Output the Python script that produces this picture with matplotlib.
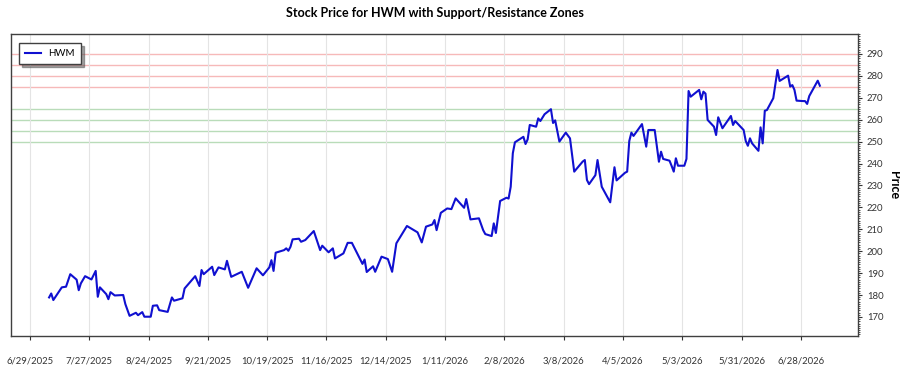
import matplotlib
matplotlib.use("Agg")
import matplotlib.pyplot as plt
from matplotlib.ticker import MultipleLocator
import pandas as pd

plt.rcParams['font.family'] = ['Lato', 'DejaVu Sans']

# price readings (date, close)
dates = [
    "2025-07-08", "2025-07-09", "2025-07-10", "2025-07-14", "2025-07-16", "2025-07-18",
    "2025-07-21", "2025-07-22", "2025-07-23", "2025-07-25", "2025-07-28", "2025-07-30",
    "2025-07-31", "2025-08-01", "2025-08-04", "2025-08-05", "2025-08-06", "2025-08-08",
    "2025-08-12", "2025-08-13", "2025-08-15", "2025-08-18", "2025-08-19", "2025-08-21",
    "2025-08-22", "2025-08-25", "2025-08-26", "2025-08-28", "2025-08-29", "2025-09-02",
    "2025-09-04", "2025-09-05", "2025-09-09", "2025-09-10", "2025-09-15", "2025-09-17",
    "2025-09-18", "2025-09-19", "2025-09-23", "2025-09-24", "2025-09-26", "2025-09-29",
    "2025-09-30", "2025-10-02", "2025-10-07", "2025-10-10", "2025-10-14", "2025-10-17",
    "2025-10-20", "2025-10-21", "2025-10-22", "2025-10-23", "2025-10-27", "2025-10-28",
    "2025-10-29", "2025-10-30", "2025-10-31", "2025-11-03", "2025-11-04", "2025-11-06",
    "2025-11-10", "2025-11-13", "2025-11-14", "2025-11-17", "2025-11-19", "2025-11-20",
    "2025-11-24", "2025-11-26", "2025-11-28", "2025-12-03", "2025-12-04", "2025-12-05",
    "2025-12-08", "2025-12-09", "2025-12-12", "2025-12-15", "2025-12-17", "2025-12-19",
    "2025-12-24", "2025-12-29", "2025-12-31", "2026-01-02", "2026-01-05", "2026-01-06",
    "2026-01-07", "2026-01-09", "2026-01-12", "2026-01-14", "2026-01-16", "2026-01-20",
    "2026-01-21", "2026-01-23", "2026-01-27", "2026-01-29", "2026-01-30", "2026-02-02",
    "2026-02-03", "2026-02-04", "2026-02-06", "2026-02-09", "2026-02-10", "2026-02-11",
    "2026-02-12", "2026-02-13", "2026-02-17", "2026-02-18", "2026-02-19", "2026-02-20",
    "2026-02-23", "2026-02-24", "2026-02-25", "2026-02-27", "2026-03-02", "2026-03-03",
    "2026-03-04", "2026-03-06", "2026-03-09", "2026-03-11", "2026-03-13", "2026-03-17",
    "2026-03-18", "2026-03-19", "2026-03-20", "2026-03-23", "2026-03-24", "2026-03-26",
    "2026-03-30", "2026-04-01", "2026-04-02", "2026-04-06", "2026-04-07", "2026-04-08",
    "2026-04-09", "2026-04-10", "2026-04-14", "2026-04-16", "2026-04-17", "2026-04-20",
    "2026-04-22", "2026-04-23", "2026-04-24", "2026-04-27", "2026-04-28", "2026-04-29",
    "2026-04-30", "2026-05-01", "2026-05-04", "2026-05-05", "2026-05-06", "2026-05-07",
    "2026-05-11", "2026-05-12", "2026-05-13", "2026-05-14", "2026-05-15", "2026-05-18",
    "2026-05-19", "2026-05-20", "2026-05-22", "2026-05-26", "2026-05-27", "2026-05-28",
    "2026-06-01", "2026-06-02", "2026-06-03", "2026-06-04", "2026-06-05", "2026-06-08",
    "2026-06-09", "2026-06-10", "2026-06-11", "2026-06-12", "2026-06-15", "2026-06-16",
    "2026-06-17", "2026-06-18", "2026-06-22", "2026-06-23", "2026-06-24", "2026-06-25",
    "2026-06-26", "2026-06-29", "2026-06-30", "2026-07-01", "2026-07-02", "2026-07-06",
    "2026-07-07",
]
prices = [
    178.9, 180.7, 177.7, 183.5, 183.8, 189.5,
    187.0, 182.2, 185.3, 188.6, 187.1, 191.0,
    179.2, 183.5, 180.4, 178.1, 181.3, 179.8,
    180.0, 175.9, 170.5, 171.9, 170.8, 172.2,
    170.1, 170.1, 175.1, 175.3, 173.1, 172.3,
    178.9, 177.4, 178.5, 183.0, 188.6, 184.1,
    191.4, 189.5, 192.9, 189.1, 192.6, 191.7,
    195.6, 188.3, 190.6, 183.3, 192.2, 189.0,
    192.6, 195.9, 191.0, 199.3, 200.5, 201.3,
    200.2, 202.0, 205.4, 205.7, 204.3, 205.1,
    209.2, 200.5, 202.5, 199.5, 201.3, 196.7,
    199.0, 203.8, 203.8, 194.2, 196.2, 190.5,
    193.1, 190.6, 197.5, 196.4, 190.6, 203.6,
    211.5, 208.6, 204.0, 211.2, 212.2, 214.2,
    209.6, 217.5, 219.5, 219.2, 224.1, 219.8,
    223.8, 214.5, 215.0, 209.6, 207.8, 206.9,
    212.7, 208.3, 222.9, 224.4, 224.0, 229.4,
    244.7, 249.7, 252.2, 248.9, 251.0, 257.6,
    256.8, 260.6, 259.4, 262.5, 264.8, 258.5,
    259.7, 250.0, 254.1, 251.5, 236.3, 240.9,
    241.6, 232.5, 230.6, 234.7, 241.6, 229.4,
    222.3, 238.3, 232.3, 235.8, 236.3, 250.3,
    254.1, 252.6, 258.0, 247.7, 255.3, 255.3,
    240.8, 245.4, 242.1, 241.3, 238.9, 236.3,
    242.4, 239.0, 239.0, 242.1, 273.1, 270.5,
    273.6, 269.3, 272.8, 271.9, 259.9, 256.8,
    253.0, 261.1, 256.1, 261.7, 257.6, 259.4,
    255.3, 250.3, 248.1, 251.5, 249.2, 245.8,
    256.5, 249.2, 264.1, 264.4, 269.8, 276.3,
    282.7, 277.7, 280.1, 275.1, 275.8, 273.6,
    268.7, 268.5, 268.5, 267.2, 270.8, 277.8,
    275.5,
]

resistance = [275, 280, 285, 290]
support = [250, 255, 260, 265]
ticker = "HWM"

x = pd.to_datetime(dates)

fig = plt.figure(figsize=(9, 3.75), dpi=100)
ax = fig.add_axes([0.0122, 0.104, 0.9411, 0.8053])

for lvl in resistance:
    ax.axhline(lvl, color='#f08080', alpha=0.55, lw=1.0, zorder=1)
for lvl in support:
    ax.axhline(lvl, color='#80c080', alpha=0.55, lw=1.0, zorder=1)

ax.plot(x, prices, color='#1010d0', lw=1.5, label=ticker, zorder=3)

# x axis: every 4 weeks
ticks = pd.date_range("2025-06-29", "2026-06-28", freq="28D")
ax.set_xticks(ticks)
ax.set_xticklabels([f"{d.month}/{d.day}/{d.year}" for d in ticks], fontsize=6.8, color='#333333')
ax.set_xlim(pd.Timestamp("2025-06-20"), pd.Timestamp("2026-07-25"))
ax.grid(axis='x', color='#e4e4e4', lw=0.8, zorder=0)
ax.tick_params(axis='x', length=3, pad=12, color='#333333')

# y axis on the right
ax.yaxis.tick_right()
ax.yaxis.set_label_position('right')
ax.set_ylim(161.3, 299.1)
ax.yaxis.set_major_locator(MultipleLocator(10))
ax.yaxis.set_minor_locator(MultipleLocator(1))
ax.tick_params(axis='y', which='major', length=3, labelsize=6.8, labelcolor='#333333', color='#333333')
ax.tick_params(axis='y', which='minor', length=1.5, color='#333333')
ax.set_ylabel("Price", fontsize=9, fontweight='bold', rotation=270, labelpad=3, va='bottom')

for s in ax.spines.values():
    s.set_color('#404040')
    s.set_linewidth(1.0)

ax.set_title(f"Stock Price for {ticker} with Support/Resistance Zones",
             fontsize=9, fontweight='bold', pad=12)

leg = ax.legend(loc='upper left', fontsize=7, fancybox=False, shadow=True,
                edgecolor='#404040', framealpha=1, handlelength=1.6,
                borderpad=0.6, bbox_to_anchor=(0.004, 0.985))
leg.get_frame().set_linewidth(1.0)

fig.savefig("out.png", dpi=100)
